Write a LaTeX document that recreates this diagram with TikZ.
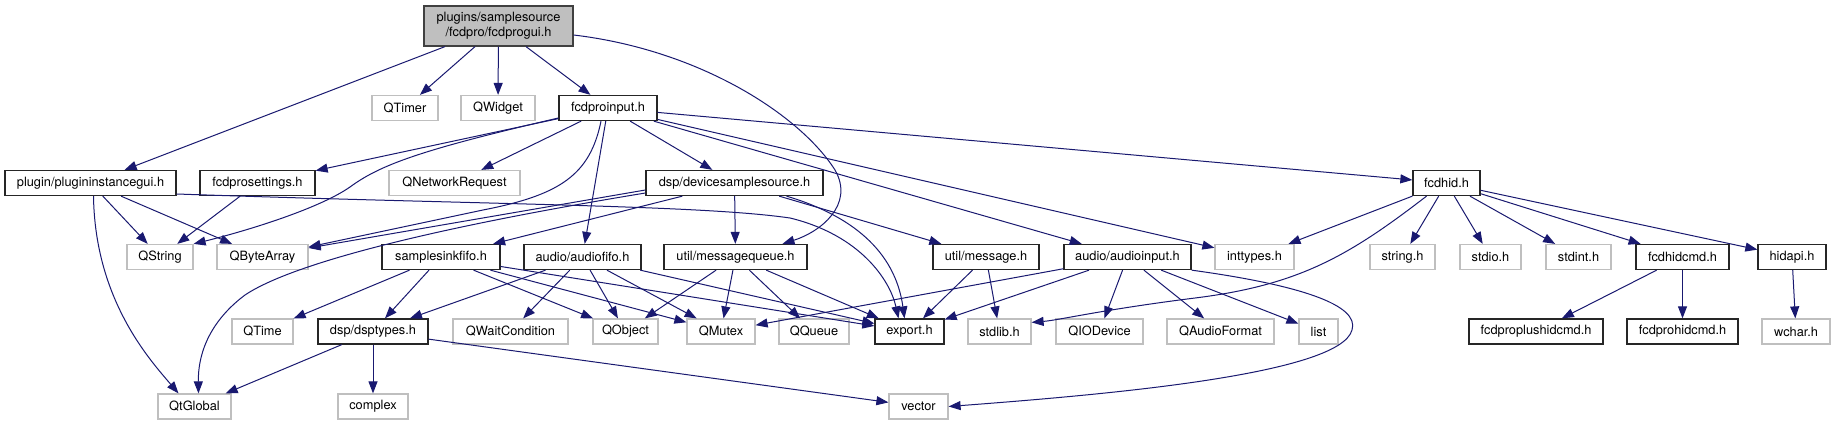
\documentclass[tikz,border=0pt]{standalone}
\usepackage{fontspec}
\setmainfont{TeX Gyre Heros}
\usepackage{tikz}
\usetikzlibrary{arrows.meta}
\definecolor{edgec}{HTML}{191970}
\definecolor{extc}{HTML}{BFBFBF}
\definecolor{rootfill}{HTML}{BFBFBF}

\begin{document}
\begin{tikzpicture}[
  x=1pt, y=-1pt,
  box/.style={draw, inner sep=0pt, minimum height=25pt, font=\fontsize{12.8}{15}\selectfont},
  doc/.style={box, draw=black!85, line width=1.3pt},
  ext/.style={box, draw=extc, line width=1.2pt},
  top/.style={box, draw=black!75, line width=1.3pt, fill=rootfill, align=center, minimum height=40pt},
  arr/.style={-{Triangle[length=12pt,width=9pt]}, edgec, line width=1pt}
]
\fill[white] (0,0) rectangle (1835,425);
\useasboundingbox (0,0) rectangle (1835,425);

% top two rows
\node[top, minimum width=149pt] (root) at (498.5,26) {plugins/samplesource\\/fcdpro/fcdprogui.h};
\node[ext, minimum width=66pt] (qtimer) at (405,108) {QTimer};
\node[ext, minimum width=74pt] (qwidget) at (498,108) {QWidget};
\node[doc, minimum width=98pt] (fcdin) at (608,108) {fcdproinput.h};

\node[doc, minimum width=171pt] (plugin) at (90.5,183) {plugin/plugininstancegui.h};
\node[doc, minimum width=115pt] (fcdset) at (257.5,183) {fcdprosettings.h};
\node[ext, minimum width=131pt] (qnetreq) at (454.5,183) {QNetworkRequest};
\node[doc, minimum width=177pt] (dss) at (734.5,183) {dsp/devicesamplesource.h};
\node[doc, minimum width=67pt] (fcdhid) at (1446.5,183) {fcdhid.h};

% third row
\node[ext, minimum width=66pt] (qstring) at (160,257) {QString};
\node[ext, minimum width=91pt] (qbyte) at (262.5,257) {QByteArray};
\node[doc, minimum width=118pt] (sinkfifo) at (441,257) {samplesinkfifo.h};
\node[doc, minimum width=117pt] (afifo) at (582.5,257) {audio/audiofifo.h};
\node[doc, minimum width=143pt] (msgq) at (735.5,257) {util/messagequeue.h};
\node[doc, minimum width=106pt] (msg) at (986,257) {util/message.h};
\node[doc, minimum width=127pt] (ainput) at (1127.5,257) {audio/audioinput.h};
\node[ext, minimum width=79pt] (inttypes) at (1254.5,257) {inttypes.h};
\node[ext, minimum width=65pt] (stringh) at (1402.5,257) {string.h};
\node[ext, minimum width=61pt] (stdio) at (1490.5,257) {stdio.h};
\node[ext, minimum width=65pt] (stdint) at (1578.5,257) {stdint.h};
\node[doc, minimum width=93pt] (hidcmd) at (1682.5,257) {fcdhidcmd.h};
\node[doc, minimum width=68pt] (hidapi) at (1792,257) {hidapi.h};

% fourth row
\node[ext, minimum width=61pt] (qtime) at (262.5,331.5) {QTime};
\node[doc, minimum width=110pt] (dsp) at (373,331.5) {dsp/dsptypes.h};
\node[ext, minimum width=115pt] (qwait) at (510.5,331.5) {QWaitCondition};
\node[ext, minimum width=65pt] (qobject) at (625.5,331.5) {QObject};
\node[ext, minimum width=68pt] (qmutex) at (721,331.5) {QMutex};
\node[ext, minimum width=70pt] (qqueue) at (814,331.5) {QQueue};
\node[doc, minimum width=69pt] (export) at (909.5,331.5) {export.h};
\node[ext, minimum width=63pt] (stdlib) at (999.5,331.5) {stdlib.h};
\node[ext, minimum width=87pt] (qiodev) at (1099.5,331.5) {QIODevice};
\node[ext, minimum width=107pt] (qaudfmt) at (1220.5,331.5) {QAudioFormat};
\node[ext, minimum width=39pt] (list) at (1318.5,331.5) {list};
\node[doc, minimum width=134pt] (plushid) at (1536,331.5) {fcdproplushidcmd.h};
\node[doc, minimum width=111pt] (prohid) at (1682.5,331.5) {fcdprohidcmd.h};
\node[ext, minimum width=68pt] (wchar) at (1796,331.5) {wchar.h};

% bottom row
\node[ext, minimum width=73pt] (qtglobal) at (194.5,406.5) {QtGlobal};
\node[ext, minimum width=70pt] (complex) at (373,406.5) {complex};
\node[ext, minimum width=59pt] (vector) at (918.5,406.5) {vector};

% straight edges
\foreach \a/\b in {root/plugin, root/qtimer, root/qwidget, root/fcdin,
    plugin/qstring, plugin/qbyte,
    fcdin/fcdset, fcdin/qnetreq, fcdin/dss, fcdin/afifo, fcdin/ainput, fcdin/inttypes, fcdin/fcdhid,
    fcdset/qstring,
    dss/sinkfifo, dss/msgq, dss/msg,
    sinkfifo/qtime, sinkfifo/dsp, sinkfifo/qobject, sinkfifo/qmutex, sinkfifo/export,
    afifo/dsp, afifo/qwait, afifo/qobject, afifo/qmutex, afifo/export,
    msgq/qobject, msgq/qmutex, msgq/qqueue, msgq/export,
    msg/export, msg/stdlib,
    ainput/qmutex, ainput/export, ainput/qiodev, ainput/qaudfmt, ainput/list,
    dsp/qtglobal, dsp/complex, dsp/vector,
    fcdhid/inttypes, fcdhid/stringh, fcdhid/stdio, fcdhid/stdint, fcdhid/hidcmd, fcdhid/hidapi,
    hidcmd/plushid, hidcmd/prohid, hidapi/wchar}
  \draw[arr] (\a) -- (\b);

% curved edges
\draw[arr] ([yshift=-9pt]root.east) .. controls (700,50) and (800,115) .. (835,170)
  .. controls (855,205) and (820,232) .. ([xshift=47pt]msgq.north);
\draw[arr] ([xshift=3pt]plugin.south) .. controls (95,300) and (150,360) .. ([xshift=-16pt]qtglobal.north);
\draw[arr] ([yshift=-11pt]plugin.east) .. controls (500,205) and (700,205) .. (790,218)
  .. controls (860,235) and (890,280) .. ([xshift=-11pt]export.north);
\draw[arr] ([xshift=52pt]dss.south) .. controls (850,215) and (895,250) .. ([xshift=-5pt]export.north);
\draw[arr] ([yshift=-10pt]dss.west) .. controls (420,230) and (290,265) .. (245,295)
  .. controls (205,325) and (198,360) .. ([xshift=4pt]qtglobal.north);
\draw[arr] ([yshift=-7pt]dss.west) -- ([yshift=9pt]qbyte.east);
\draw[arr] ([yshift=-10pt]fcdin.west) .. controls (420,150) and (380,165) .. (350,187)
  .. controls (320,208) and (250,230) .. (qstring.north east);
\draw[arr] ([xshift=-7pt]fcdin.south) .. controls (590,175) and (560,195) .. (483,210)
  -- ([yshift=10pt]qbyte.east);
\draw[arr] ([xshift=-20pt]fcdhid.south) .. controls (1350,255) and (1300,285) .. (1195,298)
  .. controls (1100,310) and (1060,320) .. ([yshift=-4pt]stdlib.north east);
\draw[arr] (ainput.south east) .. controls (1300,285) and (1360,305) .. (1352,330)
  .. controls (1340,375) and (1100,395) .. (vector.east);
\end{tikzpicture}
\end{document}
